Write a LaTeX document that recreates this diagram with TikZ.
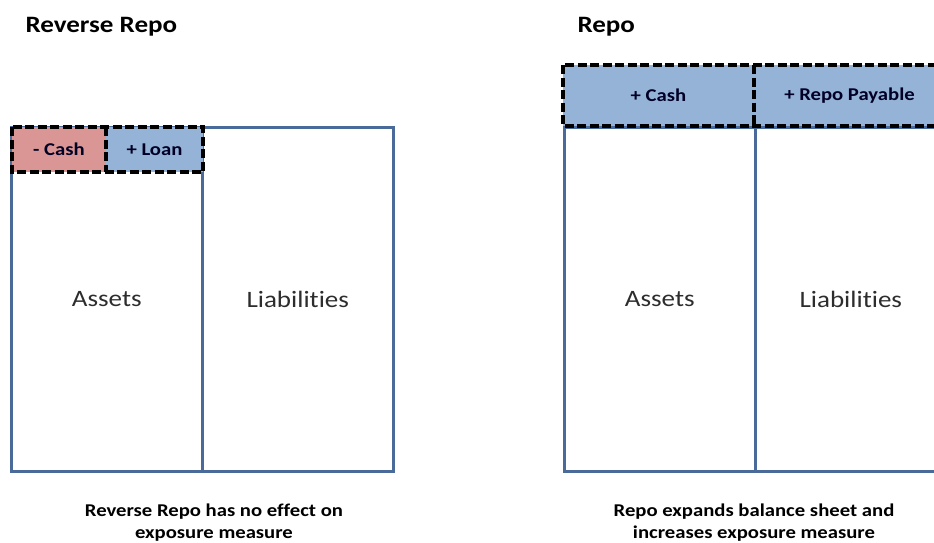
\documentclass[tikz,border=0pt]{standalone}
\usepackage{fontspec}
\setmainfont{Carlito}[Ligatures=NoCommon]
\usepackage{graphicx}
\definecolor{edgeblue}{RGB}{74,106,154}
\definecolor{redfill}{RGB}{217,150,148}
\definecolor{bluefill}{RGB}{149,179,215}
\definecolor{txtgray}{RGB}{45,45,45}
\newcommand\hstr[1]{\scalebox{1.15}[1]{#1}}
\tikzset{
  sheet/.style={draw=edgeblue, line width=2.6pt, inner sep=0pt, anchor=north west,
    text=txtgray, font=\fontsize{23.5}{27}\selectfont},
  entry/.style={line width=0pt, inner sep=0pt, anchor=north west,
    text=black!85!blue, font=\bfseries\fontsize{18}{21}\selectfont},
  dashbox/.style={draw=black, line width=3.6pt, dash pattern=on 9pt off 3.5pt},
  title/.style={anchor=west, font=\bfseries\fontsize{23.5}{27}\selectfont},
  caption/.style={align=center, font=\bfseries\fontsize{18}{22}\selectfont}
}
\begin{document}
\begin{tikzpicture}[x=1pt,y=-1pt]
\useasboundingbox (0,0) rectangle (934,542);
\clip (0,0) rectangle (934,542);
\fill[white] (0,0) rectangle (934,542);
% left: Reverse Repo
\node[title] (tL) at (22,27) {\hstr{Reverse Repo}};
\node[sheet, minimum width=191pt, minimum height=344pt] (aL) at (10,126) {\hstr{Assets}};
\node[sheet, minimum width=191pt, minimum height=344pt] (lL) at (201,126) {\hstr{Liabilities}};
\node[entry, fill=redfill, minimum width=94pt, minimum height=45pt] (cashL) at (12,127) {\hstr{- Cash}};
\node[entry, fill=bluefill, minimum width=97pt, minimum height=45pt] (loanL) at (106,127) {\hstr{+ Loan}};
\draw[dashbox] (cashL.north west) rectangle (loanL.south east);
\draw[dashbox] (cashL.north east) -- (cashL.south east);
\node[caption] (capL) at (214,523) {\hstr{Reverse Repo has no effect on}\\\hstr{exposure measure}};
% right: Repo
\node[title] (tR) at (574,27) {\hstr{Repo}};
\node[sheet, minimum width=191pt, minimum height=344pt] (aR) at (563,126) {\hstr{Assets}};
\node[sheet, minimum width=191pt, minimum height=344pt] (lR) at (754,126) {\hstr{Liabilities}};
\node[entry, fill=bluefill, minimum width=191pt, minimum height=61pt] (cashR) at (563,65) {\hstr{+ Cash}};
\node[entry, fill=bluefill, minimum width=191pt, minimum height=61pt] (payR) at (754,65) {\hstr{+ Repo Payable}};
\draw[dashbox] (cashR.north west) rectangle (payR.south east);
\draw[dashbox] (cashR.north east) -- (cashR.south east);
\node[caption] (capR) at (754,523) {\hstr{Repo expands balance sheet and}\\\hstr{increases exposure measure}};
\end{tikzpicture}
\end{document}
